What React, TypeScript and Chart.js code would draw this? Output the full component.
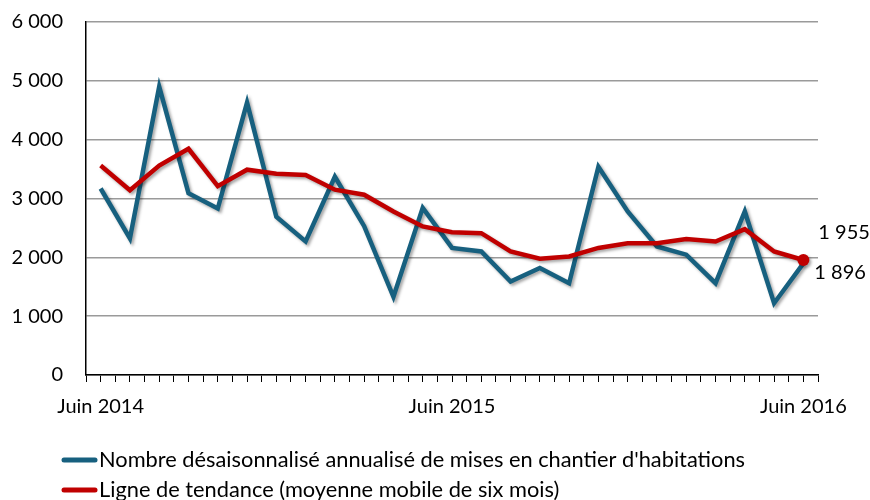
import { useEffect, useRef } from "react";
import { Chart, registerables } from "chart.js";

Chart.register(...registerables);

const months = [
  "Juin 2014", "Juil. 2014", "Août 2014", "Sept. 2014", "Oct. 2014", "Nov. 2014", "Déc. 2014",
  "Janv. 2015", "Févr. 2015", "Mars 2015", "Avr. 2015", "Mai 2015", "Juin 2015",
  "Juil. 2015", "Août 2015", "Sept. 2015", "Oct. 2015", "Nov. 2015", "Déc. 2015",
  "Janv. 2016", "Févr. 2016", "Mars 2016", "Avr. 2016", "Mai 2016", "Juin 2016",
];
const labeledMonths = ["Juin 2014", "Juin 2015", "Juin 2016"];

const mises = [
  3170, 2320, 4900, 3090, 2830, 4630, 2690, 2270, 3370, 2530, 1330, 2840, 2160,
  2100, 1590, 1820, 1560, 3540, 2780, 2185, 2045, 1560, 2780, 1220, 1896,
];
const tendance = [
  3560, 3140, 3560, 3845, 3210, 3490, 3420, 3400, 3150, 3065, 2780, 2525, 2425,
  2410, 2100, 1975, 2015, 2160, 2240, 2240, 2310, 2270, 2480, 2100, 1955,
];
const seriesNames = [
  "Nombre désaisonnalisé annualisé de mises en chantier d'habitations",
  "Ligne de tendance (moyenne mobile de six mois)",
];
const seriesColors = ["#17607f", "#c00000"];

const FONT = "Lato, 'Gill Sans', 'Noto Sans', sans-serif";

const fmt = (v: number) => String(Math.round(v)).replace(/\B(?=(\d{3})+(?!\d))/g, " ");

const shadowPlugin = {
  id: "shadow",
  beforeDatasetsDraw(chart: any) {
    const ctx = chart.ctx;
    ctx.save();
    ctx.shadowColor = "rgba(0,0,0,0.35)";
    ctx.shadowBlur = 3;
    ctx.shadowOffsetX = 2;
    ctx.shadowOffsetY = 2;
  },
  afterDatasetsDraw(chart: any) {
    chart.ctx.restore();
  },
};

const endLabelsPlugin = {
  id: "endLabels",
  afterDatasetsDraw(chart: any) {
    const ctx = chart.ctx;
    ctx.save();
    ctx.font = `20px ${FONT}`;
    ctx.fillStyle = "#000";
    ctx.textAlign = "left";
    ctx.textBaseline = "middle";
    const redMeta = chart.getDatasetMeta(1);
    const redPt = redMeta.data[redMeta.data.length - 1];
    ctx.fillText(fmt(tendance[tendance.length - 1]), redPt.x + 15, redPt.y - 27);
    const blueMeta = chart.getDatasetMeta(0);
    const bluePt = blueMeta.data[blueMeta.data.length - 1];
    ctx.fillText(fmt(mises[mises.length - 1]), bluePt.x + 11, bluePt.y + 9);
    ctx.restore();
  },
};

const legendPlugin = {
  id: "customLegend",
  afterDraw(chart: any) {
    const ctx = chart.ctx;
    ctx.save();
    ctx.font = `21.8px ${FONT}`;
    ctx.textAlign = "left";
    ctx.textBaseline = "middle";
    chart.data.datasets.forEach((ds: any, i: number) => {
      const y = 460 + i * 30;
      ctx.strokeStyle = ds.borderColor;
      ctx.lineWidth = 5;
      ctx.lineCap = "round";
      ctx.beginPath();
      ctx.moveTo(64, y);
      ctx.lineTo(95, y);
      ctx.stroke();
      ctx.fillStyle = "#000";
      ctx.fillText(ds.label, 99, y);
    });
    ctx.restore();
  },
};

export default function App() {
  const ref = useRef<HTMLCanvasElement | null>(null);
  useEffect(() => {
    if (!ref.current) return;
    const chart = new Chart(ref.current, {
      type: "line",
      data: {
        datasets: [
          {
            label: seriesNames[0],
            data: mises.map((y, i) => ({ x: i, y })),
            borderColor: seriesColors[0],
            backgroundColor: seriesColors[0],
            borderWidth: 4.5,
            pointRadius: 0,
            tension: 0,
            order: 1,
          },
          {
            label: seriesNames[1],
            data: tendance.map((y, i) => ({ x: i, y })),
            borderColor: seriesColors[1],
            backgroundColor: seriesColors[1],
            borderWidth: 4.5,
            pointRadius: (c: any) => (c.dataIndex === tendance.length - 1 ? 6 : 0),
            pointBorderWidth: 0,
            tension: 0,
            order: 0,
          },
        ],
      },
      options: {
        animation: false,
        responsive: false,
        events: [],
        layout: { padding: { top: 22, right: 52, bottom: 0, left: 0 } },
        plugins: {
          legend: { display: false },
          tooltip: { enabled: false },
        },
        scales: {
          x: {
            type: "linear",
            min: -0.5,
            max: 24.5,
            afterFit: (s: any) => {
              s.height = 125;
              s.paddingLeft = 0;
              s.paddingRight = 0;
            },
            ticks: {
              stepSize: 0.5,
              autoSkip: false,
              maxRotation: 0,
              minRotation: 0,
              padding: 13,
              color: "#000",
              font: { family: FONT, size: 20 },
              callback: (v: any) => {
                const n = Number(v);
                if (!Number.isInteger(n)) return "";
                const m = months[n];
                return labeledMonths.includes(m) ? m : "";
              },
            },
            grid: {
              drawOnChartArea: false,
              drawTicks: true,
              tickLength: 7,
              color: "#000",
              lineWidth: 1,
            },
            border: { display: true, color: "#000", width: 1.5 },
          },
          y: {
            min: 0,
            max: 6000,
            afterFit: (s: any) => {
              s.width = 86;
              s.paddingTop = 0;
              s.paddingBottom = 0;
            },
            ticks: {
              stepSize: 1000,
              padding: 23,
              color: "#000",
              font: { family: FONT, size: 20 },
              callback: (v: any) => fmt(Number(v)),
            },
            grid: {
              drawTicks: false,
              color: "#9a9a9a",
              lineWidth: 1.5,
            },
            border: { display: true, color: "#000", width: 1.5 },
          },
        },
      },
      plugins: [shadowPlugin, endLabelsPlugin, legendPlugin],
    } as any);
    return () => chart.destroy();
  }, []);
  return (
    <div style={{ position: "fixed", left: 0, top: 0, width: 870, height: 500, background: "#fff" }}>
      <canvas ref={ref} width={870} height={500} style={{ width: 870, height: 500 }} />
    </div>
  );
}
